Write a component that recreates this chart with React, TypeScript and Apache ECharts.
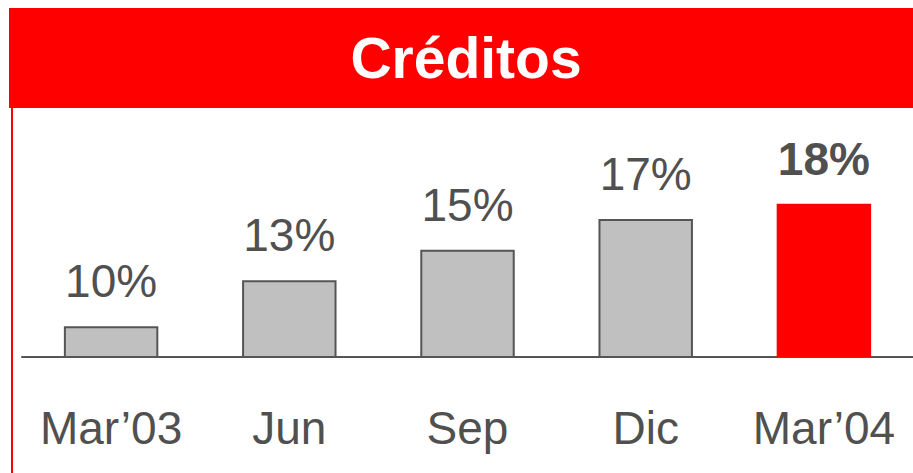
import React, { useEffect, useRef } from "react";
import * as echarts from "echarts";

const title = "Créditos";
const categories = ["Mar’03", "Jun", "Sep", "Dic", "Mar’04"];
const values = [10, 13, 15, 17, 18];
const highlightIndex = 4;

export default function App() {
  const ref = useRef<HTMLDivElement>(null);
  useEffect(() => {
    if (!ref.current) return;
    const chart = echarts.init(ref.current, null, { renderer: "svg" });
    const font = "'Liberation Sans', Arial, sans-serif";
    const textColor = "#505050";
    chart.setOption({
      animation: false,
      grid: { left: 22, right: 0, top: 173, bottom: 116, containLabel: false },
      xAxis: {
        type: "category",
        data: categories,
        axisLine: { show: true, lineStyle: { color: "#555555", width: 2 } },
        axisTick: { show: false },
        axisLabel: {
          interval: 0,
          color: textColor,
          fontFamily: font,
          fontSize: 46,
          margin: 48,
        },
      },
      yAxis: {
        type: "value",
        min: 8,
        max: 20,
        show: false,
        splitLine: { show: false },
      },
      series: [
        {
          type: "bar",
          barWidth: "53%",
          data: values.map((v, i) =>
            i === highlightIndex
              ? {
                  value: v,
                  itemStyle: { color: "#ff0000", borderWidth: 0 },
                  label: { fontWeight: "bold" },
                }
              : v
          ),
          itemStyle: { color: "#c0c0c0", borderColor: "#555555", borderWidth: 2 },
          label: {
            show: true,
            position: "top",
            distance: 22,
            formatter: "{c}%",
            color: textColor,
            fontFamily: font,
            fontSize: 46,
          },
        },
      ],
      graphic: [
        {
          type: "rect",
          shape: { x: 9, y: 8, width: 910, height: 100 },
          style: { fill: "#ff0000" },
          silent: true,
        },
        {
          type: "rect",
          shape: { x: 11, y: 108, width: 2, height: 370 },
          style: { fill: "#ff0000" },
          silent: true,
        },
        {
          type: "text",
          x: 466,
          y: 58,
          style: {
            text: title,
            fill: "#ffffff",
            font: `bold 57px ${font}`,
            textAlign: "center",
            textVerticalAlign: "middle",
          },
          silent: true,
        },
      ],
    });
    return () => chart.dispose();
  }, []);
  return (
    <div
      ref={ref}
      style={{ position: "fixed", left: 0, top: 0, width: 913, height: 473, background: "#ffffff" }}
    />
  );
}
